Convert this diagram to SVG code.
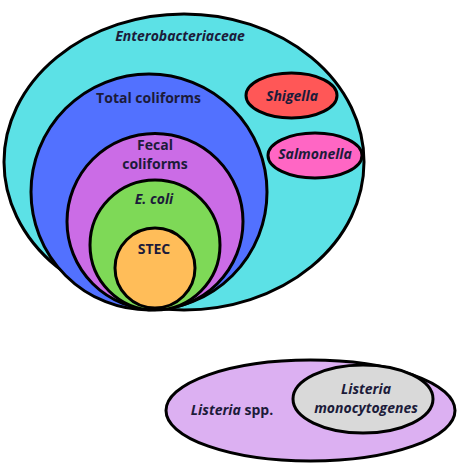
<svg xmlns="http://www.w3.org/2000/svg" width="466" height="474" viewBox="0 0 466 474">
<style>
.s{stroke:#000;stroke-width:3}
text{font-family:"Open Sans","Noto Sans",sans-serif;font-weight:700;font-size:14px;fill:#1c1b3a;text-anchor:middle}
.i{font-style:italic}
</style>
<rect width="466" height="474" fill="#fff"/>
<g id="enterobacteriaceae">
<ellipse class="s" cx="184" cy="162" rx="180" ry="148" fill="#5ce1e6"/>
<text class="i" x="180" y="41">Enterobacteriaceae</text>
</g>
<g id="shigella">
<ellipse class="s" cx="291.5" cy="95.5" rx="45.5" ry="22.5" fill="#ff5757"/>
<text class="i" x="292" y="101">Shigella</text>
</g>
<g id="salmonella">
<ellipse class="s" cx="315" cy="155.5" rx="47" ry="22.5" fill="#ff66c4"/>
<text class="i" x="315" y="159">Salmonella</text>
</g>
<g id="total-coliforms">
<circle class="s" cx="149" cy="192" r="118" fill="#5271ff"/>
<text x="148.5" y="103">Total coliforms</text>
</g>
<g id="fecal-coliforms">
<circle class="s" cx="155" cy="221.5" r="88" fill="#cb6ce6"/>
<text x="155" y="150">Fecal</text>
<text x="155" y="169">coliforms</text>
</g>
<g id="e-coli">
<circle class="s" cx="155" cy="245" r="65" fill="#7ed957"/>
<text class="i" x="154" y="204">E. coli</text>
</g>
<g id="stec">
<circle class="s" cx="155" cy="268" r="40" fill="#ffbd59"/>
<text x="154" y="254">STEC</text>
</g>
<g id="listeria-spp">
<ellipse class="s" cx="310.5" cy="410.5" rx="144.5" ry="50.5" fill="#dcb0f2"/>
<text x="232" y="415"><tspan class="i">Listeria</tspan> spp.</text>
</g>
<g id="listeria-monocytogenes">
<ellipse class="s" cx="363" cy="399" rx="70" ry="34" fill="#d9d9d9"/>
<text class="i" x="366" y="394">Listeria</text>
<text class="i" x="366" y="413">monocytogenes</text>
</g>
<g id="connectors"/>
</svg>
